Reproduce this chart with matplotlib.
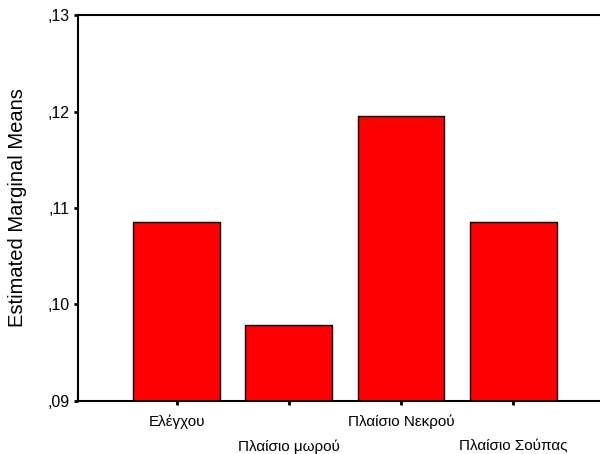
import matplotlib
matplotlib.use("Agg")
import matplotlib.pyplot as plt
from matplotlib.ticker import FixedLocator, FuncFormatter

categories = ["Ελέγχου", "Πλαίσιο μωρού", "Πλαίσιο Νεκρού", "Πλαίσιο Σούπας"]
means = [0.1086, 0.0979, 0.1195, 0.1086]
yticks = [0.09, 0.10, 0.11, 0.12, 0.13]

plt.rcParams['font.family'] = ['Liberation Sans', 'DejaVu Sans']

fig = plt.figure(figsize=(6.0, 4.54), dpi=100)
ax = fig.add_axes([78/600, 53/454, (600-78)/600, (401-15)/454])

x = list(range(len(categories)))
ax.bar(x, means, width=0.775, color='#ff0000', edgecolor='black', linewidth=1.0, zorder=2)

ax.set_xlim(-0.88, 3.775)
ax.set_ylim(0.09, 0.13)
ax.yaxis.set_major_locator(FixedLocator(yticks))
ax.yaxis.set_major_formatter(FuncFormatter(lambda v, p: ("%.2f" % v).lstrip("0").replace(".", ",")))
ax.set_xticks(x)
labels = [c if i % 2 == 0 else "\n" + c for i, c in enumerate(categories)]
ax.set_xticklabels(labels, fontsize=11, linespacing=1.95)
ax.tick_params(axis='y', labelsize=11.5, length=3, width=2, direction='out', pad=3)
ax.tick_params(axis='x', length=3, width=2, direction='out', pad=7)

for s in ['left', 'bottom', 'top']:
    ax.spines[s].set_linewidth(1.5)
ax.spines['right'].set_visible(False)

ax.set_ylabel("Estimated Marginal Means", fontsize=14.5, labelpad=15)

fig.savefig("out.png", dpi=100)
